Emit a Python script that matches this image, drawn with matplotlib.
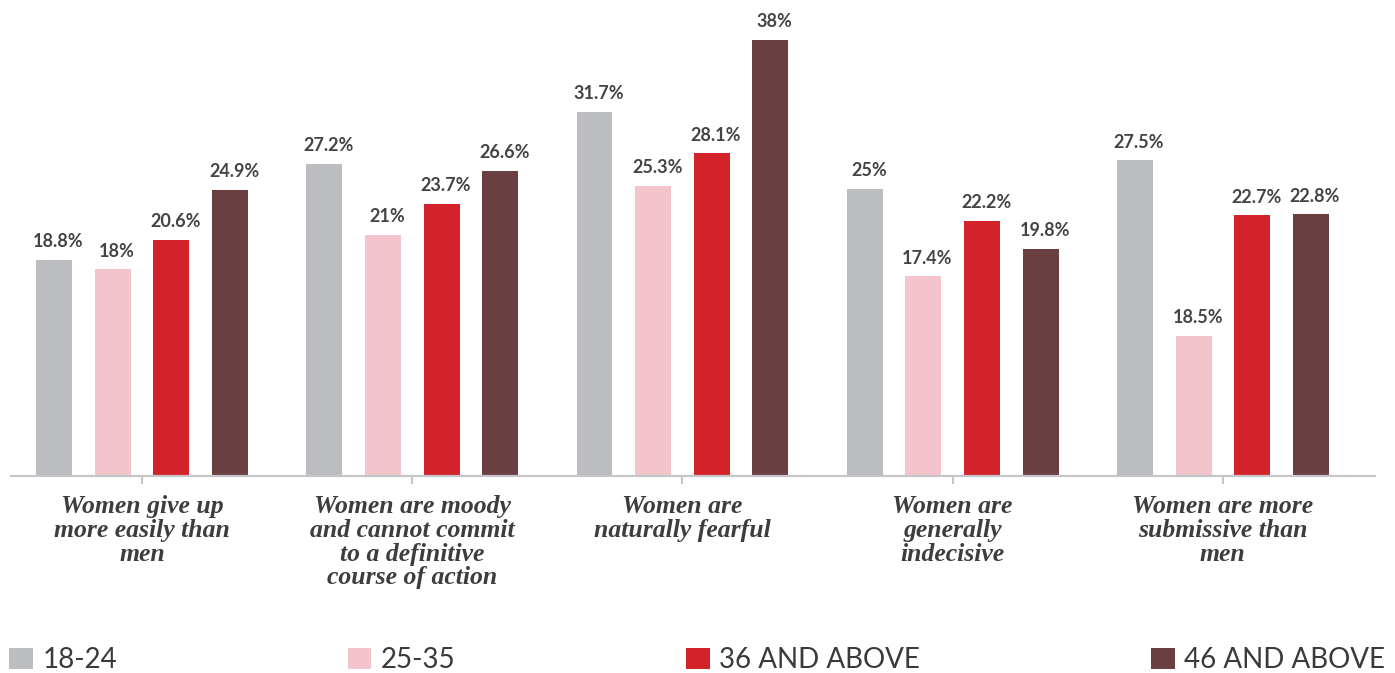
import matplotlib
matplotlib.use("Agg")
import matplotlib.pyplot as plt
from matplotlib.patches import Patch
import numpy as np

categories = [
    "Women give up\nmore easily than\nmen",
    "Women are moody\nand cannot commit\nto a definitive\ncourse of action",
    "Women are\nnaturally fearful",
    "Women are\ngenerally\nindecisive",
    "Women are more\nsubmissive than\nmen",
]
groups = ["18-24", "25-35", "36 AND ABOVE", "46 AND ABOVE"]
age_18_24 = [18.8, 27.2, 31.7, 25.0, 27.5]
# last bar is drawn shorter than its 18.5% label in the original chart
age_25_35 = [18.0, 21.0, 25.3, 17.4, 12.2]
age_36_up = [20.6, 23.7, 28.1, 22.2, 22.7]
age_46_up = [24.9, 26.6, 38.0, 19.8, 22.8]

labels_18_24 = ["18.8%", "27.2%", "31.7%", "25%", "27.5%"]
labels_25_35 = ["18%", "21%", "25.3%", "17.4%", "18.5%"]
labels_36_up = ["20.6%", "23.7%", "28.1%", "22.2%", "22.7%"]
labels_46_up = ["24.9%", "26.6%", "38%", "19.8%", "22.8%"]

series = [age_18_24, age_25_35, age_36_up, age_46_up]
series_labels = [labels_18_24, labels_25_35, labels_36_up, labels_46_up]
colors = ["#bcbdc1", "#f4c4cc", "#d3222a", "#6a3f42"]

W, H = 1395, 673
fig = plt.figure(figsize=(W / 100, H / 100), dpi=100)
ax = fig.add_axes([11 / W, (H - 476) / H, 1364 / W, 466 / H])

x = np.arange(len(categories))
step = 0.217
width = 0.133

for i, (vals, labs, c) in enumerate(zip(series, series_labels, colors)):
    pos = x + (i - 1.5) * step
    bars = ax.bar(pos, vals, width=width, color=c, label=groups[i], zorder=2)
    for b, lab in zip(bars, labs):
        ax.annotate(
            lab,
            (b.get_x() + b.get_width() / 2, b.get_height()),
            xytext=(3, 7),
            textcoords="offset points",
            ha="center",
            va="bottom",
            fontsize=13,
            fontweight="bold",
            family=["Lato", "DejaVu Sans"],
            color="#444444",
        )

ax.set_xlim(-0.485, 4.563)
ax.set_ylim(0, 40.6)
for s in ["top", "right", "left"]:
    ax.spines[s].set_visible(False)
ax.spines["bottom"].set_color("#c6c6ca")
ax.spines["bottom"].set_linewidth(1.6)
ax.set_yticks([])
ax.set_xticks(x)
ax.set_xticklabels(
    categories,
    fontsize=18.5,
    family=["Liberation Serif", "DejaVu Serif"],
    fontweight="bold",
    style="italic",
    color="#3d3d3d",
    linespacing=1.03,
)
ax.tick_params(axis="x", length=6, width=1.5, color="#c6c6ca", pad=8)

handles = [Patch(facecolor=c, edgecolor="none") for c in colors]
fig.legend(
    handles,
    groups,
    loc="lower left",
    bbox_to_anchor=(9 / W, 0),
    ncol=4,
    frameon=False,
    borderpad=0,
    borderaxespad=0,
    handlelength=0.85,
    handleheight=0.8,
    handletextpad=0.35,
    columnspacing=8.3,
    prop={"family": ["Lato", "DejaVu Sans"], "size": 20},
    labelcolor="#3a3a3a",
)

fig.savefig("out.png", dpi=100)
